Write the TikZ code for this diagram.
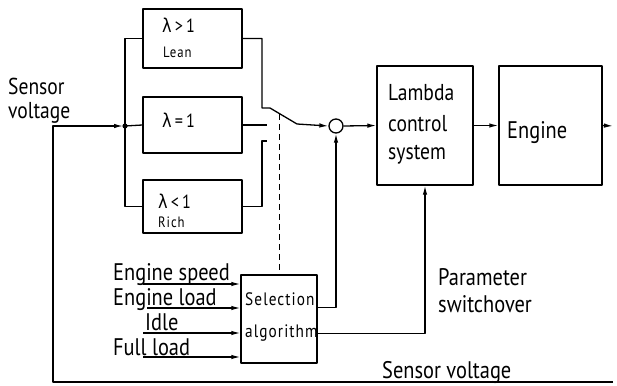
\documentclass[tikz,border=0pt]{standalone}
\usepackage{fontspec}
\setmainfont{PT Sans}[FakeStretch=0.85]
\newfontfamily\grk{DejaVu Sans}[FakeStretch=0.85]
\usetikzlibrary{arrows.meta,calc}
\begin{document}
\begin{tikzpicture}[x=1pt,y=-1pt,
  ln/.style={line width=1.3pt, line join=round},
  box/.style={draw, ln, inner sep=0pt, rectangle},
  arr/.style={ln, -{Latex[length=9pt,width=4.5pt]}},
  txt/.style={anchor=base west, inner sep=0pt},
  big/.style={font=\fontsize{24}{28}\selectfont},
  mid/.style={font=\fontsize{23}{27}\selectfont},
  lam/.style={font=\fontsize{19}{22}\selectfont},
  sml/.style={font=\fontsize{15}{18}\selectfont\addfontfeatures{LetterSpace=6}},
  sel/.style={font=\fontsize{18}{21}\selectfont\addfontfeatures{LetterSpace=6}}
]
\useasboundingbox (0,0) rectangle (617,385);

% boxes
\node[box, minimum width=99pt, minimum height=59pt] (lean) at (192.5,38.5) {};
\node[box, minimum width=99pt, minimum height=56pt] (stoich) at (192.5,125) {};
\node[box, minimum width=99pt, minimum height=53pt] (rich) at (192.5,206.5) {};
\node[box, minimum width=96pt, minimum height=119pt] (lcs) at (425,125.5) {};
\node[box, minimum width=103pt, minimum height=119pt] (eng) at (550.5,125.5) {};
\node[box, minimum width=76pt, minimum height=88pt] (sel) at (279,319) {};
\node[draw, ln, circle, minimum size=14pt, inner sep=0pt] (sum) at (336,126) {};

% texts
\node[txt, font=\fontsize{23}{27}\selectfont] (sv1) at (8,95) {Sensor};
\node[txt, font=\fontsize{23}{27}\selectfont] (sv2) at (8,118) {voltage};
\node[txt, lam] (t1) at (162,33) {{\grk λ}\,>\,1};
\node[txt, sml] (t1b) at (163,58) {Lean};
\node[txt, lam] (t2) at (162,127) {{\grk λ}\,=\,1};
\node[txt, lam] (t3) at (158,208) {{\grk λ}\,<\,1};
\node[txt, sml] (t3b) at (158,227) {Rich};
\node[txt, mid] (l1) at (388,100) {Lambda};
\node[txt, mid] (l2) at (388,131) {control};
\node[txt, mid] (l3) at (388,159) {system};
\node[txt, big] (e1) at (507,138) {Engine};
\node[txt, sel] (s1) at (245,305) {Selection};
\node[txt, sel] (s2) at (245,337) {algorithm};
\node[txt, big] (p1) at (438,285) {Parameter};
\node[txt, big] (p2) at (438,312) {switchover};
\node[txt, big] (sb) at (382,378) {Sensor voltage};
\node[txt, big] (i1) at (113,280) {Engine speed};
\node[txt, big] (i2) at (113,305) {Engine load};
\node[txt, big] (i3) at (145,330) {Idle};
\node[txt, big] (i4) at (113,355) {Full load};

% coordinates
\coordinate (jn) at (125,126);
\coordinate (jin) at (123,126);
\coordinate (fbR) at (613,382);
\coordinate (fbC) at (53,382);
\coordinate (fbT) at (53,126);
\coordinate (cT) at (262,108);
\coordinate (b1) at (270,108);
\coordinate (b2) at (297,124);
\coordinate (cM) at (267,125);
\coordinate (cB) at (262,141);
\coordinate (cB2) at (267,141);
\coordinate (bm) at ($(b1)!0.37!(b2)$);
\coordinate (o1) at ($(sel.north east)!0.375!(sel.south east)$);
\coordinate (o2) at ($(sel.north east)!0.66!(sel.south east)$);
\coordinate (out) at (613,126);
\coordinate (a1) at (143,284);
\coordinate (a2) at (147,308);
\coordinate (a3) at (143,333);
\coordinate (a4) at (143,357);

% feedback and input
\draw[arr] (fbR) -- (fbC) -- (fbT) -- (jin);
\fill (jn) circle (2.6pt);
% bus
\draw[ln] (lean.west) -| (jn) |- (rich.west);
\draw[ln] (jn) -- (stoich.west);
% switch
\draw[ln] (lean.east) -| (cT) -- (b1) -- (b2);
\draw[ln] (stoich.east) -- (cM);
\draw[ln] (rich.east) -| (cB) -- (cB2);
\draw[arr] (b2) -- (sum.west);
\draw[ln, line width=1pt, dash pattern=on 6pt off 4pt] (bm) -- (bm |- sel.north);
% main chain
\draw[arr] (sum.east) -- (lcs.west);
\draw[arr] (lcs.east) -- (eng.west);
\draw[arr] (eng.east) -- (out);
% selection outputs
\draw[arr] (o1) -| (sum.south);
\draw[arr] (o2) -| (lcs.south);
% selection inputs
\draw[arr] (a1) -- (a1 -| sel.west);
\draw[arr] (a2) -- (a2 -| sel.west);
\draw[arr] (a3) -- (a3 -| sel.west);
\draw[arr] (a4) -- (a4 -| sel.west);
\end{tikzpicture}
\end{document}
